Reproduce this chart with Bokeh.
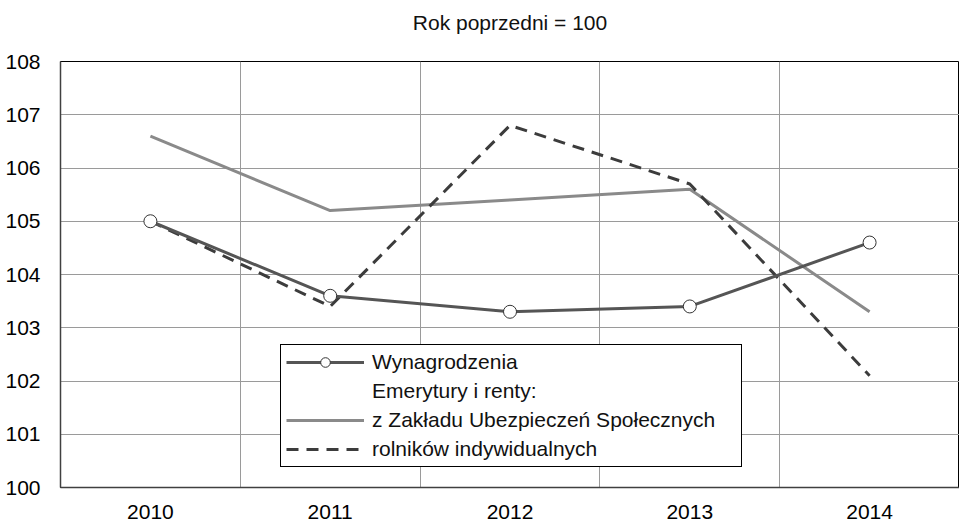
from bokeh.plotting import figure
from bokeh.models import Range1d, FixedTicker, Legend, LegendItem, Title
from bokeh.embed import file_html
from bokeh.resources import INLINE

years = [2010, 2011, 2012, 2013, 2014]
year_labels = ["2010", "2011", "2012", "2013", "2014"]
wynagrodzenia = [105.0, 103.6, 103.3, 103.4, 104.6]
zus = [106.6, 105.2, 105.4, 105.6, 103.3]
rolnicy = [105.0, 103.4, 106.8, 105.7, 102.1]
y_ticks = [100, 101, 102, 103, 104, 105, 106, 107, 108]

title_text = "Rok poprzedni = 100"
label_wyn = "Wynagrodzenia"
label_head = "Emerytury i renty:"
label_zus = "z Zakładu Ubezpieczeń Społecznych"
label_rol = "rolników indywidualnych"

FONT = "Liberation Sans"
FS = "21px"

p = figure(
    width=959, height=523,
    frame_width=899, frame_height=426,
    min_border_left=60, min_border_right=0, min_border_top=61, min_border_bottom=36,
    x_range=Range1d(years[0] - 0.5, years[-1] + 0.5),
    y_range=Range1d(y_ticks[0], y_ticks[-1]),
    output_backend="svg", toolbar_location=None,
)
p.title.text = title_text
p.title.align = "center"
p.title.vertical_align = "top"
p.title.text_font = FONT
p.title.text_font_size = "21px"
p.title.text_font_style = "normal"
p.title.text_color = "#111111"
p.title.standoff = 16
spacer = Title(text=" ", text_font_size="1px", standoff=15)
p.add_layout(spacer, "above")

p.outline_line_color = "black"
p.outline_line_width = 1
p.background_fill_color = "white"
p.border_fill_color = "white"

# axes
p.xaxis.ticker = FixedTicker(ticks=years)
p.xaxis.major_label_overrides = {y: l for y, l in zip(years, year_labels)}
p.yaxis.ticker = FixedTicker(ticks=y_ticks)
for ax in (p.xaxis, p.yaxis):
    ax.major_tick_line_color = None
    ax.minor_tick_line_color = None
    ax.axis_line_color = "#404040"
    ax.axis_line_width = 1.5
    ax.major_label_text_font = FONT
    ax.major_label_text_font_size = FS
    ax.major_label_text_color = "#000000"
p.xaxis.major_label_standoff = 11
p.yaxis.major_label_standoff = 14

# grids
p.xgrid.ticker = FixedTicker(ticks=[y + 0.5 for y in years[:-1]])
p.xgrid.grid_line_color = "#9a9a9a"
p.xgrid.grid_line_width = 1
p.ygrid.ticker = FixedTicker(ticks=y_ticks)
p.ygrid.grid_line_color = "#9a9a9a"
p.ygrid.grid_line_width = 1

# series
r_zus = p.line(years, zus, line_color="#8a8a8a", line_width=3)
r_rol = p.line(years, rolnicy, line_color="#3c3c3c", line_width=3, line_dash="12 8")
r_wyn = p.line(years, wynagrodzenia, line_color="#555555", line_width=3)
r_wyn_m = p.scatter(years, wynagrodzenia, size=13, marker="circle",
                    fill_color="white", line_color="#333333", line_width=1)
r_dummy = p.line(years, wynagrodzenia, line_alpha=0)

legend = Legend(
    items=[
        LegendItem(label=label_wyn, renderers=[r_wyn, r_wyn_m]),
        LegendItem(label=label_head, renderers=[r_dummy]),
        LegendItem(label=label_zus, renderers=[r_zus]),
        LegendItem(label=label_rol, renderers=[r_rol]),
    ],
    location=(220, 20),
    orientation="vertical",
    glyph_width=78, glyph_height=24, label_height=24, label_width=364,
    label_standoff=8, spacing=5, padding=5, margin=0,
    label_text_font=FONT, label_text_font_size=FS, label_text_color="#111111",
    label_text_baseline="middle",
    border_line_color="black", border_line_width=1, border_line_alpha=1,
    background_fill_color="white", background_fill_alpha=1,
)
p.add_layout(legend, "center")

open("out.html", "w").write(file_html(p, INLINE))
